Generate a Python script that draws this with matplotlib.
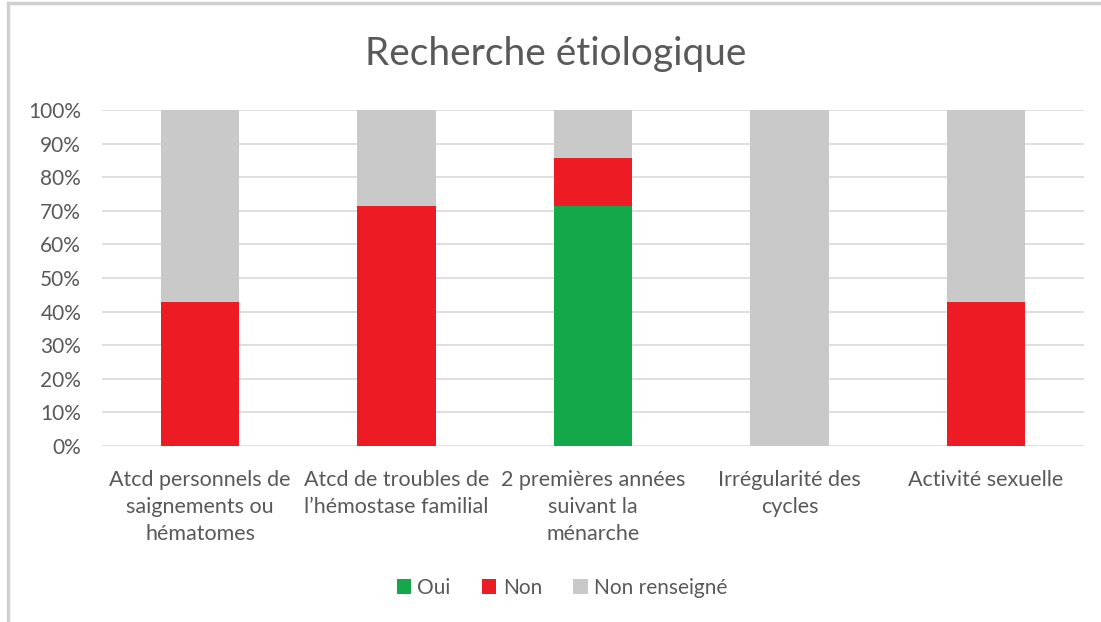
import matplotlib.pyplot as plt
import matplotlib.patches as mpatches
import numpy as np

plt.rcParams['font.family'] = ['Lato', 'DejaVu Sans']

categories = [
    "Atcd personnels de\nsaignements ou\nhématomes",
    "Atcd de troubles de\nl\u2019hémostase familial",
    "2 premières années\nsuivant la\nménarche",
    "Irrégularité des\ncycles",
    "Activité sexuelle",
]
oui = [0, 0, 71.4, 0, 0]
non = [42.9, 71.4, 14.3, 0, 42.9]
non_renseigne = [57.1, 28.6, 14.3, 100, 57.1]

series_names = ["Oui", "Non", "Non renseigné"]
colors = ["#15A84B", "#ED1C24", "#C9C9C9"]
text_color = "#595959"

fig = plt.figure(figsize=(11.01, 6.22), dpi=100)
# light frame of the chart area (top and left edges visible)
fig.patches.append(mpatches.Rectangle((8 / 1101, -0.1), 1.2, 1.1 - 3 / 622,
                                      transform=fig.transFigure, fill=False,
                                      edgecolor="#d0d0d0", linewidth=2.5))

ax = fig.add_axes([102 / 1101, 1 - 446 / 622, 982 / 1101, 336 / 622])

x = np.arange(len(categories))
bottom = np.zeros(len(categories))
handles = []
for name, vals, c in zip(series_names, [oui, non, non_renseigne], colors):
    b = ax.bar(x, vals, width=0.4, bottom=bottom, color=c, label=name, zorder=3)
    handles.append(b)
    bottom += np.array(vals)

ax.set_xlim(-0.5, len(categories) - 0.5)
ax.set_ylim(0, 100)
ax.set_yticks(np.arange(0, 101, 10))
ax.set_yticklabels([f"{v}%" for v in range(0, 101, 10)])
ax.yaxis.grid(True, color="#d9d9d9", linewidth=1.2, zorder=0)
for s in ax.spines.values():
    s.set_visible(False)
ax.tick_params(axis="y", length=0, labelsize=15, colors=text_color, pad=15)
ax.tick_params(axis="x", length=0, labelsize=15.5, colors=text_color, pad=17)
ax.set_xticks(x)
ax.set_xticklabels(categories, linespacing=1.45)

fig.text(0.5 + 5 / 1101, 1 - 54 / 622, "Recherche étiologique", ha="center", va="center",
         fontsize=28, color=text_color)

fig.legend(handles=handles, labels=series_names, loc="center",
           bbox_to_anchor=(562 / 1101, 1 - 588 / 622), ncol=3, frameon=False,
           fontsize=15, labelcolor=text_color, handlelength=0.7, handleheight=0.7,
           handletextpad=0.3, columnspacing=1.5)

fig.savefig("out.png", dpi=100)
